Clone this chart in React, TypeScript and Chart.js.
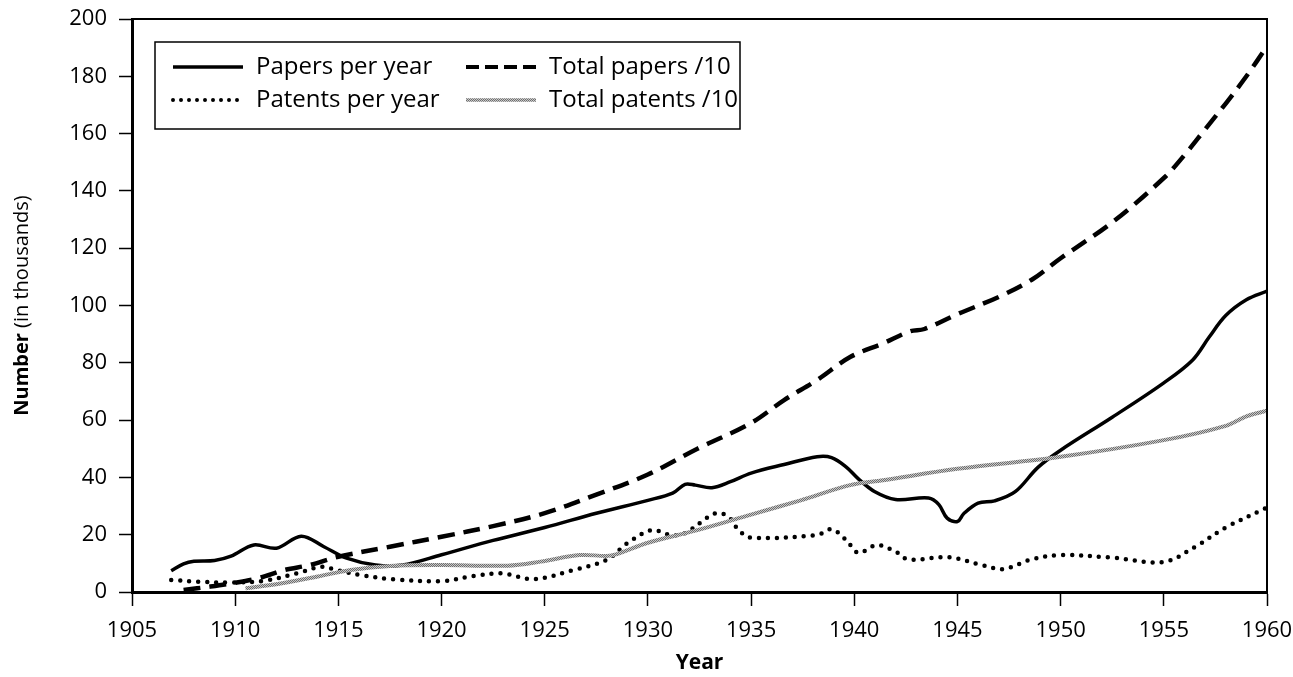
import React, { useEffect, useRef } from "react";
import { Chart, registerables } from "chart.js";

Chart.register(...registerables);

// ---- Data (values in thousands) ----
const papersYears = [1906.9, 1907.5, 1908, 1909, 1909.8, 1910.9, 1912, 1913.2, 1914.3, 1915.4, 1916.8, 1918.1, 1920, 1922.5, 1925, 1927.5, 1930, 1931.2, 1931.8, 1932.3, 1933.1, 1934, 1935, 1936.6, 1938.2, 1938.9, 1939.6, 1940.2, 1941, 1942, 1943.6, 1944.1, 1944.5, 1945, 1945.3, 1946, 1946.8, 1947.8, 1948.9, 1950, 1952.5, 1955, 1956.4, 1957.2, 1958, 1959, 1960];
const papersPerYear = [7.4, 9.8, 10.7, 11, 12.5, 16.4, 15.3, 19.5, 15.8, 11.8, 9.4, 9.4, 13, 18, 22.5, 27.5, 32, 34.5, 37.6, 37.3, 36.4, 38.5, 41.5, 44.5, 47.2, 46.9, 43.7, 39.5, 35, 32.3, 32.8, 30.5, 25.8, 24.6, 27.3, 31, 31.8, 35, 43.5, 49.5, 61, 73, 81, 89, 96.5, 102, 105];

const totalPapersYears = [1907.5, 1908.8, 1909.8, 1911.1, 1912.4, 1913.6, 1915, 1917.5, 1920, 1922.5, 1925, 1927.5, 1930, 1932.4, 1935, 1936.6, 1938.2, 1939.8, 1941.4, 1942.7, 1943.4, 1945, 1947, 1948.6, 1950, 1952.5, 1955, 1956, 1957, 1958, 1959, 1960];
const totalPapers10 = [0.7, 1.9, 3, 4.8, 7.7, 9.4, 12.3, 15.8, 19.3, 23, 27.5, 34, 41, 50, 59, 67, 74, 82, 86.8, 91, 91.8, 97, 103, 109, 116.5, 129, 144.5, 152.5, 161.5, 170.5, 180, 190.5];

const patentsYears = [1906.9, 1908.2, 1909.8, 1911.4, 1913, 1914.2, 1914.9, 1916.1, 1917.7, 1920, 1921.6, 1922.9, 1924.5, 1926.4, 1928, 1929, 1930.2, 1931.1, 1931.8, 1932.5, 1933.3, 1933.9, 1934.4, 1935, 1938.2, 1938.9, 1939.6, 1940.2, 1941.1, 1942, 1942.6, 1944.6, 1946.2, 1947.2, 1948.6, 1950, 1952.5, 1955, 1956.5, 1958, 1960];
const patentsPerYear = [4.2, 3.6, 3.3, 3.9, 6.5, 8.8, 7.7, 5.9, 4.4, 3.8, 5.6, 6.5, 4.5, 7.7, 11.2, 17, 21.6, 19.9, 20.5, 24, 27.5, 26.3, 21.6, 19, 19.9, 21.9, 18.2, 13.7, 16.4, 14.1, 11.4, 12.1, 9.4, 8, 11.4, 12.9, 12, 10.5, 15.7, 22.5, 29.5];

const totalPatentsYears = [1910.5, 1912.2, 1914, 1915.6, 1917.5, 1920, 1923.2, 1924.8, 1926.7, 1928, 1928.5, 1930, 1932.4, 1935, 1937.4, 1939.8, 1941.4, 1945, 1950, 1955, 1958, 1959, 1960];
const totalPatents10 = [1.3, 3, 5.4, 7.7, 9.1, 9.4, 9.2, 10.6, 12.9, 12.6, 13.2, 17.2, 21.6, 27, 32, 37.3, 39, 43, 47.2, 53, 58, 61.3, 63.3];

const seriesLabels = ["Papers per year", "Patents per year", "Total papers /10", "Total patents /10"];

const FONT = "'Open Sans', 'Noto Sans', sans-serif";

function makeGrayPattern(): CanvasPattern | string {
  const c = document.createElement("canvas");
  c.width = 2;
  c.height = 2;
  const g = c.getContext("2d");
  if (!g) return "#9e9e9e";
  g.fillStyle = "#c8c8c8";
  g.fillRect(0, 0, 2, 2);
  g.fillStyle = "#6e6e6e";
  g.fillRect(0, 0, 1, 1);
  g.fillRect(1, 1, 1, 1);
  const p = g.createPattern(c, "repeat");
  return p || "#9e9e9e";
}

const toPts = (xs: number[], ys: number[]) => xs.map((x, i) => ({ x, y: ys[i] }));

type LegendItem = { label: string; dash: number[]; gray: boolean; width: number; cap: CanvasLineCap };

const legendItems: LegendItem[] = [
  { label: seriesLabels[0], dash: [], gray: false, width: 3.5, cap: "butt" },
  { label: seriesLabels[2], dash: [13, 6], gray: false, width: 4, cap: "butt" },
  { label: seriesLabels[1], dash: [0, 8], gray: false, width: 4, cap: "round" },
  { label: seriesLabels[3], dash: [], gray: true, width: 3.5, cap: "butt" },
];

export default function App() {
  const ref = useRef<HTMLCanvasElement | null>(null);
  useEffect(() => {
    if (!ref.current) return;
    const grayPattern = makeGrayPattern();

    const decorPlugin = {
      id: "decor",
      afterDraw(chart: any) {
        const { ctx, chartArea } = chart;
        const { left, right, top, bottom } = chartArea;
        ctx.save();
        // frame top & right
        ctx.strokeStyle = "#000";
        ctx.lineWidth = 2;
        ctx.beginPath();
        ctx.moveTo(left, top);
        ctx.lineTo(right, top);
        ctx.lineTo(right, bottom);
        ctx.stroke();

        // legend box
        const bx = 155, by = 42, bw = 585, bh = 87;
        ctx.fillStyle = "#fff";
        ctx.fillRect(bx, by, bw, bh);
        ctx.lineWidth = 1.5;
        ctx.strokeStyle = "#000";
        ctx.strokeRect(bx, by, bw, bh);
        const cols = [bx + 18, bx + 311];
        const rows = [by + 25, by + 58];
        legendItems.forEach((it, i) => {
          const cx = cols[i % 2];
          const cy = rows[Math.floor(i / 2)];
          ctx.save();
          ctx.strokeStyle = it.gray ? grayPattern : "#000";
          ctx.lineWidth = it.width;
          ctx.lineCap = it.cap;
          ctx.setLineDash(it.dash);
          ctx.beginPath();
          ctx.moveTo(cx, cy);
          ctx.lineTo(cx + 70, cy);
          ctx.stroke();
          ctx.restore();
          ctx.fillStyle = "#000";
          ctx.font = `24px ${FONT}`;
          ctx.textBaseline = "middle";
          ctx.textAlign = "left";
          ctx.fillText(it.label, cx + 83, cy);
        });

        // x title
        ctx.fillStyle = "#000";
        ctx.font = `bold 21px ${FONT}`;
        ctx.textAlign = "center";
        ctx.textBaseline = "middle";
        ctx.fillText("Year", (left + right) / 2, 663);

        // y title (mixed weight)
        ctx.save();
        ctx.translate(22, (top + bottom) / 2);
        ctx.rotate(-Math.PI / 2);
        const boldTxt = "Number";
        const normTxt = " (in thousands)";
        ctx.font = `bold 20px ${FONT}`;
        const wb = ctx.measureText(boldTxt).width;
        ctx.font = `20px ${FONT}`;
        const wn = ctx.measureText(normTxt).width;
        const start = -(wb + wn) / 2;
        ctx.textAlign = "left";
        ctx.textBaseline = "middle";
        ctx.font = `bold 20px ${FONT}`;
        ctx.fillText(boldTxt, start, 0);
        ctx.font = `20px ${FONT}`;
        ctx.fillText(normTxt, start + wb, 0);
        ctx.restore();
        ctx.restore();
      },
    };

    const chart = new Chart(ref.current, {
      type: "line",
      data: {
        datasets: [
          {
            label: seriesLabels[3],
            data: toPts(totalPatentsYears, totalPatents10),
            borderColor: grayPattern as any,
            borderWidth: 4,
            pointRadius: 0,
            tension: 0.35,
            fill: false,
          },
          {
            label: seriesLabels[0],
            data: toPts(papersYears, papersPerYear),
            borderColor: "#000",
            borderWidth: 3.5,
            pointRadius: 0,
            tension: 0.35,
            fill: false,
          },
          {
            label: seriesLabels[1],
            data: toPts(patentsYears, patentsPerYear),
            borderColor: "#000",
            borderWidth: 4.5,
            borderDash: [0, 9],
            borderCapStyle: "round",
            pointRadius: 0,
            tension: 0.35,
            fill: false,
          },
          {
            label: seriesLabels[2],
            data: toPts(totalPapersYears, totalPapers10),
            borderColor: "#000",
            borderWidth: 4.5,
            borderDash: [17, 9],
            pointRadius: 0,
            tension: 0.35,
            fill: false,
          },
        ],
      },
      options: {
        animation: false,
        responsive: true,
        maintainAspectRatio: false,
        layout: { padding: { top: 19, right: 26, left: 0, bottom: 0 } },
        plugins: { legend: { display: false }, tooltip: { enabled: false } },
        scales: {
          x: {
            type: "linear",
            min: 1905,
            max: 1960,
            afterFit: (s: any) => {
              s.height = 85;
              s.paddingLeft = 0;
              s.paddingRight = 0;
            },
            ticks: {
              stepSize: 5,
              callback: (v: any) => String(v),
              color: "#000",
              font: { family: FONT, size: 22 },
              padding: 12,
              maxRotation: 0,
            },
            grid: { drawOnChartArea: false, drawTicks: true, tickLength: 14, tickWidth: 1.5, tickColor: "#000" },
            border: { display: true, color: "#000", width: 3 },
          },
          y: {
            min: 0,
            max: 200,
            afterFit: (s: any) => {
              s.width = 132;
              s.paddingTop = 0;
              s.paddingBottom = 0;
            },
            ticks: {
              stepSize: 20,
              color: "#000",
              font: { family: FONT, size: 22 },
              padding: 12,
            },
            grid: { drawOnChartArea: false, drawTicks: true, tickLength: 13, tickWidth: 1.5, tickColor: "#000" },
            border: { display: true, color: "#000", width: 3 },
          },
        },
      },
      plugins: [decorPlugin],
    });
    return () => chart.destroy();
  }, []);
  return (
    <div style={{ position: "fixed", left: 0, top: 0, width: 1293, height: 677, background: "#fff" }}>
      <canvas ref={ref} />
    </div>
  );
}
